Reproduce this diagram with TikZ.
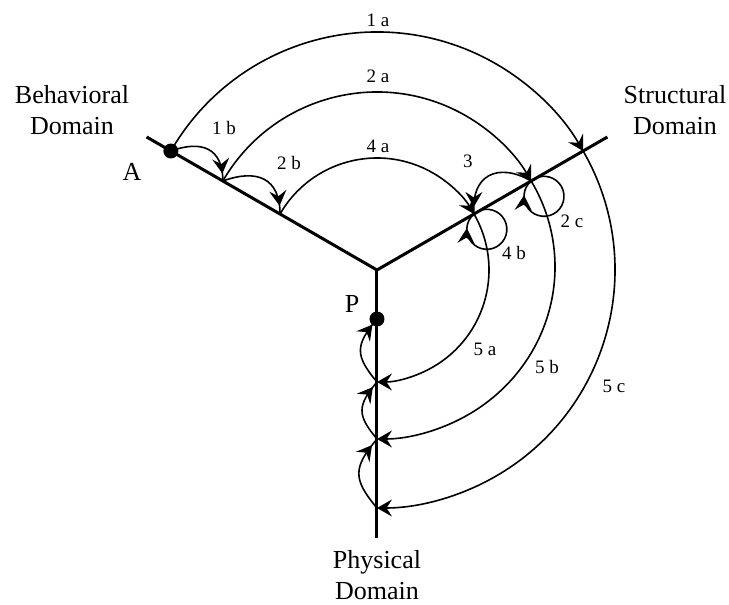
\documentclass[tikz,border=0pt]{standalone}
\usepackage{fontspec}
\setmainfont{Liberation Serif}
\usetikzlibrary{arrows.meta,decorations.markings}
\begin{document}
\begin{tikzpicture}[x=1pt,y=1pt,
  axis/.style={line width=3pt},
  flow/.style={line width=1.6pt},
  tipend/.style={-{Stealth[length=15pt,width=17pt,inset=5.5pt]}},
  arr/.style={postaction={decorate},decoration={markings,mark=at position #1 with {\arrow{Stealth[length=15pt,width=17pt,inset=5.5pt]}}}},
  lbl/.style={font=\fontsize{19}{22}\selectfont,inner sep=0pt},
  dom/.style={font=\fontsize{26}{31}\selectfont,align=center,inner sep=0pt},
  dot/.style={circle,fill=black,minimum size=15pt,inner sep=0pt}]
\useasboundingbox (-377,-335) rectangle (352,270);
% axes
\coordinate (O) at (0,0);
\coordinate (Bend) at (150:266);
\coordinate (Send) at (30:266);
\coordinate (Pend) at (0,-268);
\draw[axis] (Bend) -- (O) -- (Send);
\draw[axis] (O) -- (Pend);
% points
\coordinate (A) at (150:238);
\coordinate (B2) at (150:178);
\coordinate (B4) at (150:112);
\coordinate (C1) at (30:238);
\coordinate (C2) at (30:178);
\coordinate (C4) at (30:112);
\coordinate (P) at (0,-49);
\coordinate (Q4) at (0,-112);
\coordinate (Q2) at (0,-169);
\coordinate (Q1) at (0,-238);
% big arcs
\draw[flow,tipend] (A) arc[start angle=150,end angle=30,radius=238];
\draw[flow,tipend] (B2) arc[start angle=150,end angle=30,radius=178];
\draw[flow,tipend] (B4) arc[start angle=150,end angle=30,radius=112];
\draw[flow,tipend] (C1) arc[start angle=30,end angle=-90,radius=238];
\draw[flow,tipend] (C2) arc[start angle=30,end angle=-90,x radius=178,y radius=172];
\draw[flow,tipend] (C4) arc[start angle=30,end angle=-90,radius=112];
% small arcs on behavioral axis
\draw[flow,arr=0.9] (A) to[out=20,in=90,looseness=1.4] (B2);
\draw[flow,arr=0.9] (B2) to[out=20,in=90,looseness=1.4] (B4);
% arc 3
\draw[flow,arr=0.92] (C2) to[out=150,in=95,looseness=1.5] (C4);
% loops
\draw[flow,arr=0.87] (C2) arc[start angle=130,end angle=-230,radius=20];
\draw[flow,arr=0.87] (C4) arc[start angle=130,end angle=-230,radius=20];
% physical returns
\draw[flow,arr=0.9] (Q1) to[out=130,in=230,looseness=1.4] (Q2);
\draw[flow,arr=0.9] (Q2) to[out=130,in=230,looseness=1.4] (Q4);
\draw[flow,arr=0.9] (Q4) to[out=130,in=230,looseness=1.4] (P);
% dots
\node[dot] (dA) at (A) {};
\node[dot] (dP) at (P) {};
% labels
\node[lbl] (l1a) at (1,250) {1 a};
\node[lbl] (l2a) at (1,194) {2 a};
\node[lbl] (l4a) at (1,124) {4 a};
\node[lbl] (l1b) at (-153,142) {1 b};
\node[lbl] (l2b) at (-88,107) {2 b};
\node[lbl] (l3) at (91,109) {3};
\node[lbl] (l2c) at (195,49) {2 c};
\node[lbl] (l4b) at (137,17) {4 b};
\node[lbl] (l5a) at (108,-79) {5 a};
\node[lbl] (l5b) at (170,-97) {5 b};
\node[lbl] (l5c) at (237,-116) {5 c};
\node[dom] (lA) at (-245,98) {A};
\node[dom] (lP) at (-25,-34) {P};
\node[dom] (beh) at (-305,160) {Behavioral\\Domain};
\node[dom] (str) at (298,160) {Structural\\Domain};
\node[dom] (phy) at (0,-305) {Physical\\Domain};
\end{tikzpicture}
\end{document}
